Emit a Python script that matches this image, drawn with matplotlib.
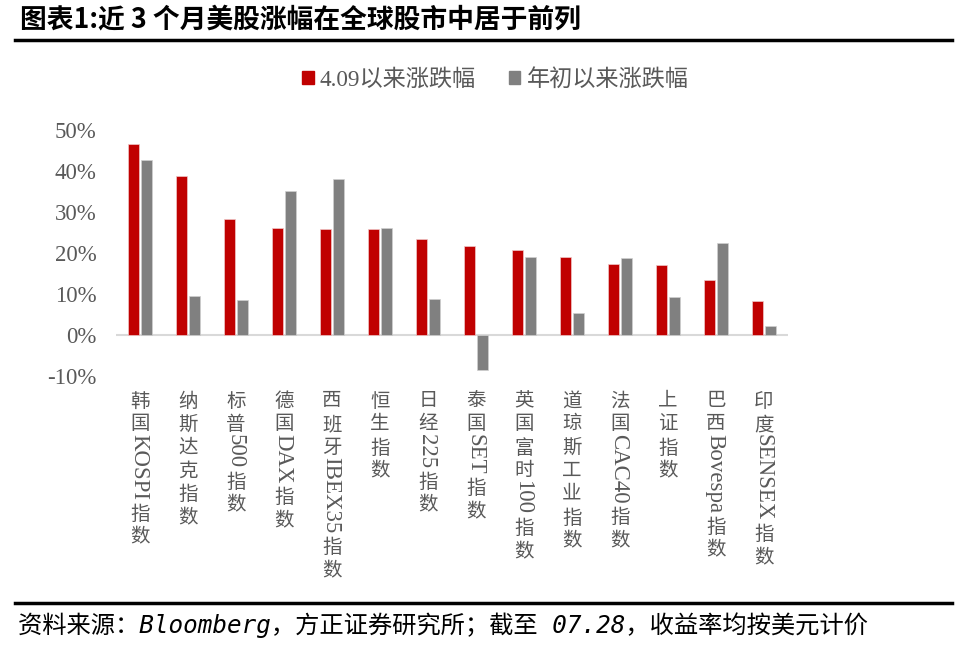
import matplotlib
matplotlib.use("Agg")
import matplotlib.pyplot as plt
from matplotlib.patches import Patch
from matplotlib.font_manager import FontProperties
import numpy as np
import re

# data
categories = ['韩国KOSPI指数', '纳斯达克指数', '标普500指数', '德国DAX指数', '西班牙IBEX35指数',
              '恒生指数', '日经225指数', '泰国SET指数', '英国富时100指数', '道琼斯工业指数',
              '法国CAC40指数', '上证指数', '巴西Bovespa指数', '印度SENSEX指数']
since_0409 = [46.7, 38.8, 28.3, 26.2, 25.9, 25.9, 23.5, 21.8, 20.7, 19.1, 17.2, 17.0, 13.4, 8.4]
ytd = [42.7, 9.6, 8.6, 35.1, 38.0, 26.1, 8.9, -8.5, 19.1, 5.4, 18.9, 9.2, 22.4, 2.2]
series_names = ['4.09以来涨跌幅', '年初以来涨跌幅']
yticks = [-10, 0, 10, 20, 30, 40, 50]

RED = '#C00000'
GRAY = '#808080'
TXT = '#595959'
fam = ['Liberation Serif', 'Noto Sans CJK SC']
plt.rcParams['font.family'] = fam

fig = plt.figure(figsize=(9.6, 6.49), dpi=100)
ax = fig.add_axes([116 / 960, 273 / 649, 672 / 960, 246 / 649])

x = np.arange(len(categories))
w = 0.23
ax.bar(x - 0.14, since_0409, w, color=RED, edgecolor='#f0c8c8', linewidth=0.5, zorder=3)
ax.bar(x + 0.14, ytd, w, color=GRAY, edgecolor='#d0d0d0', linewidth=0.5, zorder=3)

ax.set_xlim(-0.5, len(categories) - 0.5)
ax.set_ylim(-10, 50)
ax.set_yticks(yticks)
ax.set_yticklabels([f'{v}%' for v in yticks], color=TXT, fontsize=16.5)
ax.tick_params(axis='y', length=0, pad=14)
ax.tick_params(axis='x', length=0, labelbottom=False)
for s in ax.spines.values():
    s.set_visible(False)
ax.axhline(0, color='#d9d9d9', lw=1.5, zorder=2)

# vertical category labels: CJK upright, latin runs rotated
renderer = fig.canvas.get_renderer()
fs_cjk = 14
fs_lat = 16.5
step = 16.8  # points per CJK cell
lat_prop = FontProperties(family='Liberation Serif', size=fs_lat)
for i, lab in enumerate(categories):
    off = 12
    for seg in re.findall(r'[A-Za-z0-9]+|.', lab):
        if re.match(r'[A-Za-z0-9]', seg):
            off -= 4
            ax.annotate(seg, xy=(i, 0), xycoords=('data', 'axes fraction'),
                        xytext=(-1.0, -off), textcoords='offset points',
                        ha='left', va='center', rotation=-90, rotation_mode='anchor',
                        fontsize=fs_lat, color=TXT, family='Liberation Serif')
            wpx, hpx, d = renderer.get_text_width_height_descent(seg, lat_prop, ismath=False)
            off += wpx * 72 / fig.dpi + 4
        else:
            ax.annotate(seg, xy=(i, 0), xycoords=('data', 'axes fraction'),
                        xytext=(0, -off), textcoords='offset points',
                        ha='center', va='top', fontsize=fs_cjk, color=TXT)
            off += step

# legend
handles = [Patch(color=RED), Patch(color=GRAY)]
fig.legend(handles, series_names, loc='center', bbox_to_anchor=(0.516, 1 - 80 / 649),
           ncol=2, frameon=False, fontsize=16.7, handlelength=0.48, handleheight=0.48,
           handletextpad=0.27, columnspacing=1.43, labelcolor=TXT)

# title and rules
fig.text(20 / 960, 1 - 19 / 649, '图表1:近 3 个月美股涨幅在全球股市中居于前列',
         fontsize=19.3, fontweight='bold', color='black', va='center', ha='left',
         family=['Noto Sans CJK SC'])
fig.add_artist(plt.Line2D([15 / 960, 952 / 960], [1 - 40 / 649, 1 - 40 / 649],
                          color='black', lw=2.5))
fig.add_artist(plt.Line2D([15 / 960, 952 / 960], [1 - 603 / 649, 1 - 603 / 649],
                          color='black', lw=2.5))
fig.text(18 / 960, 1 - 625 / 649,
         '资料来源：Bloomberg，方正证券研究所；截至 07.28，收益率均按美元计价',
         fontsize=17.5, style='italic', color='black', va='center', ha='left',
         family=['DejaVu Sans Mono', 'Noto Sans CJK SC'])

fig.savefig('out.png', dpi=100)
